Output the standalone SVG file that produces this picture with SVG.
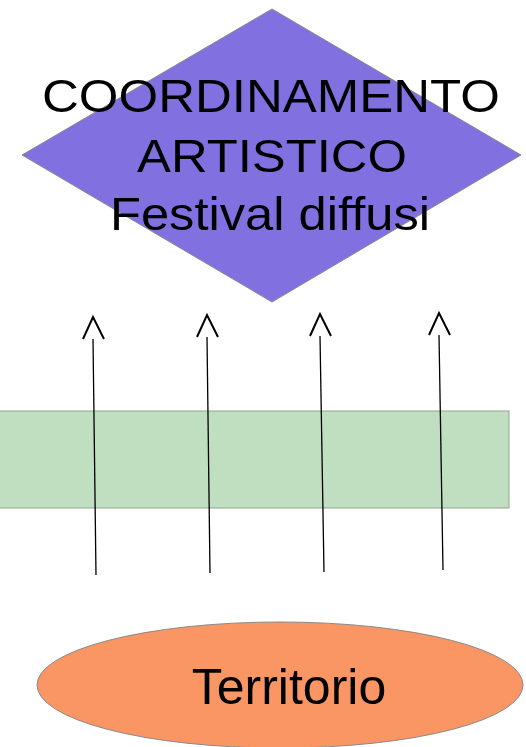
<svg xmlns="http://www.w3.org/2000/svg" width="526" height="747" viewBox="0 0 526 747">
<style>
.lbl{font-family:"Liberation Sans",Arial,sans-serif;fill:#000;text-anchor:middle}
.conn line{stroke:#000;stroke-width:1.3;fill:none}
.conn path{stroke:#000;stroke-width:2;fill:none}
</style>
<rect width="526" height="747" fill="#fff"/>
<g id="coordinamento">
<polygon points="272,9 521,155 272,302 22,155" fill="#8170e0" stroke="#8a8a8a" stroke-width="1"/>
<text class="lbl" x="271" y="112" font-size="47" textLength="458" lengthAdjust="spacingAndGlyphs">COORDINAMENTO</text>
<text class="lbl" x="272" y="172" font-size="47" textLength="270" lengthAdjust="spacingAndGlyphs">ARTISTICO</text>
<text class="lbl" x="270" y="230" font-size="47" textLength="320" lengthAdjust="spacingAndGlyphs">Festival diffusi</text>
</g>
<g id="fascia">
<rect x="-2" y="411" width="511" height="97" fill="#c0dfc0" stroke="#8fa48f" stroke-width="1"/>
</g>
<g id="territorio">
<ellipse cx="280" cy="685" rx="243" ry="63" fill="#fa9664" stroke="#8a8a8a" stroke-width="1"/>
<text class="lbl" x="289" y="704" font-size="50">Territorio</text>
</g>
<g class="conn" id="connectors">
<line x1="96" y1="575" x2="93" y2="339"/>
<path d="M83,339 L93,317 L104,339"/>
<line x1="210" y1="573" x2="207" y2="337"/>
<path d="M197,337 L207,315 L218,337"/>
<line x1="324" y1="572" x2="320" y2="336"/>
<path d="M310,336 L320,314 L331,336"/>
<line x1="443" y1="570" x2="439" y2="335"/>
<path d="M429,335 L439,313 L450,335"/>
</g>
</svg>
